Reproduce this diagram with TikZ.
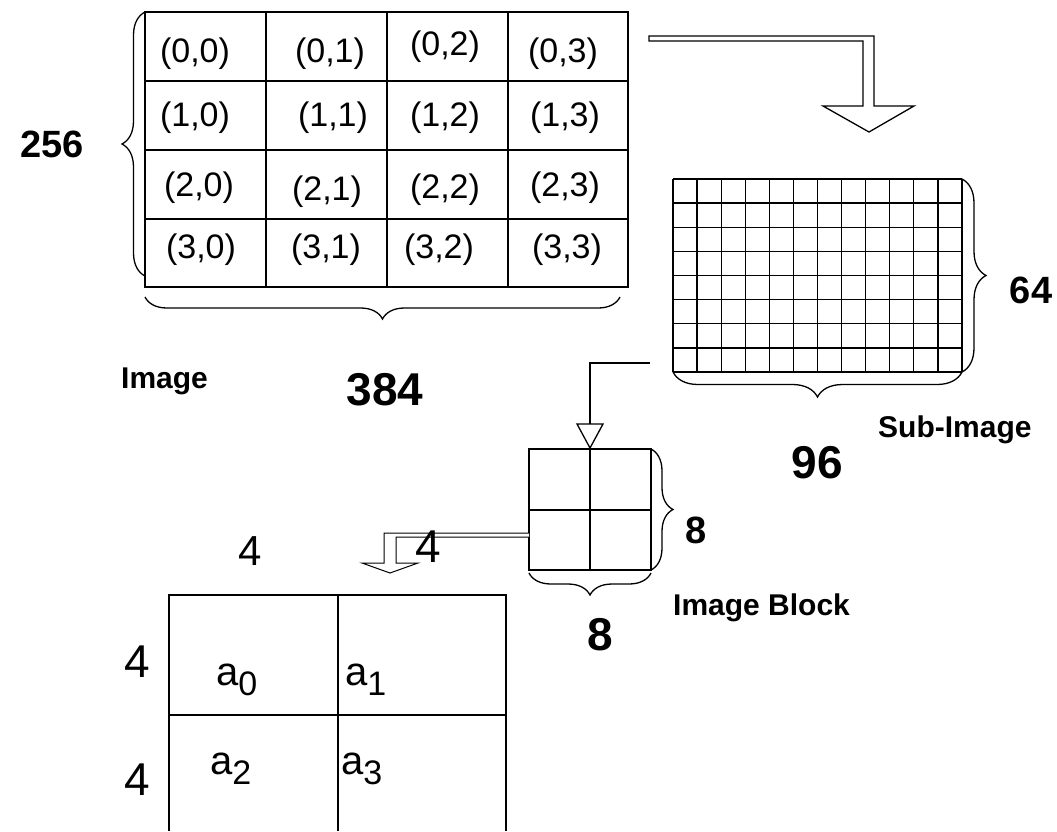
\documentclass[tikz,border=0pt]{standalone}
\usepackage{fontspec}
\setmainfont{Liberation Sans}
\usetikzlibrary{decorations.pathreplacing}

\tikzset{
  gridline/.style={line width=1.3pt},
  coordlbl/.style={font=\fontsize{34}{40}\selectfont, inner sep=0pt},
  dimbig/.style={font=\bfseries\fontsize{46}{50}\selectfont, inner sep=0pt, anchor=base},
  dimmid/.style={font=\bfseries\fontsize{38}{42}\selectfont, inner sep=0pt, anchor=base},
  dimplain/.style={font=\fontsize{46}{50}\selectfont, inner sep=0pt, anchor=base},
  caption/.style={font=\bfseries\fontsize{30}{36}\selectfont, inner sep=0pt, anchor=base west},
  elem/.style={font=\fontsize{40}{44}\selectfont, inner sep=0pt, anchor=base west},
  brc/.style={decorate, decoration={brace, amplitude=#1}, line width=1.3pt},
  brc/.default=22pt,
  hollow/.style={line width=1.3pt, fill=white, line join=miter},
}
\newcommand{\elemsub}[1]{a\raisebox{-10pt}{\fontsize{34}{34}\selectfont #1}}

\begin{document}
\begin{tikzpicture}[x=1pt, y=-1pt]
  \useasboundingbox (0,0) rectangle (1057,831);

  % image 4x4
  \coordinate (imgNW) at (145,12);
  \coordinate (imgSE) at (628,287);
  \draw[gridline] (imgNW) rectangle (imgSE);
  \foreach \x in {266,387,508} \draw[gridline] (\x,12) -- (\x,287);
  \foreach \y in {81,150,219} \draw[gridline] (145,\y) -- (628,\y);
  \foreach \r/\c/\x/\y in {0/0/195/54, 0/1/330/54, 0/2/445/47, 0/3/563/54,
                           1/0/195/118, 1/1/333/118, 1/2/445/118, 1/3/565/118,
                           2/0/199/188, 2/1/327/192, 2/2/445/190, 2/3/565/188,
                           3/0/201/250, 3/1/326/250, 3/2/439/250, 3/3/567/250}
    \node[coordlbl] (c\r\c) at (\x,\y) {(\r,\c)};
  \draw[brc=23pt] (145,276) -- (145,12);
  \draw[brc] (620,297) -- (145,297);
  \node[dimmid] (rows) at (52,157) {256};
  \node[caption] (imglbl) at (121,388) {Image};
  \node[dimbig] (cols) at (385,405) {384};

  % image -> sub-image
  \draw[hollow] (649,36) -- (874,36) -- (874,106) -- (914,106) -- (869,132)
    -- (823,106) -- (863,106) -- (863,41) -- (649,41) -- cycle;

  % sub-image 12x8
  \coordinate (subNW) at (673,179);
  \foreach \i in {0,...,12} \draw[gridline] ({673+\i*289/12},179) -- ++(0,193);
  \foreach \j in {0,...,8} \draw[gridline] (673,{179+\j*193/8}) -- ++(289,0);
  \draw[brc=24pt] (962,179) -- (962,372);
  \draw[brc=25pt] (962,372) -- (673,372);
  \node[dimmid] (subrows) at (1031,303) {64};
  \node[caption] (sublbl) at (878,437) {Sub-Image};
  \node[dimbig] (subcols) at (817,478) {96};

  % sub-image -> block
  \draw[gridline] (650,363) -- (590,363) -- (590,424);
  \draw[hollow] (577,424) -- (603,424) -- (590,448) -- cycle;

  % image block
  \draw[gridline] (529,449) rectangle (651,570);
  \draw[gridline] (590,449) -- (590,570);
  \draw[gridline] (529,510) -- (651,510);
  \draw[brc] (651,449) -- (651,570);
  \draw[brc] (651,573) -- (529,573);
  \node[dimmid] (blkrows) at (696,543) {8};
  \node[caption] (blklbl) at (673,615) {Image Block};
  \node[dimbig] (blkcols) at (600,650) {8};

  % block -> elements
  \draw[line width=1pt, fill=white, line join=miter] (529,533) -- (384,533) -- (384,563)
    -- (362,563) -- (390,573) -- (418,563) -- (396,563) -- (396,537) -- (529,537);

  % 2x2 elements
  \draw[gridline] (169,831) -- (169,595) -- (506,595) -- (506,831);
  \draw[gridline] (338,595) -- (338,831);
  \draw[gridline] (169,715) -- (506,715);
  \node[dimplain, font=\fontsize{42}{46}\selectfont] (ew) at (250,565) {4};
  \node[dimplain] (ew2) at (428,562) {4};
  \node[dimplain] (eh) at (137,677) {4};
  \node[dimplain] (eh2) at (137,795) {4};
  \node[elem] (a0) at (216,685) {\elemsub{0}};
  \node[elem] (a1) at (345,685) {\elemsub{1}};
  \node[elem] (a2) at (210,774) {\elemsub{2}};
  \node[elem] (a3) at (341,774) {\elemsub{3}};
\end{tikzpicture}
\end{document}
